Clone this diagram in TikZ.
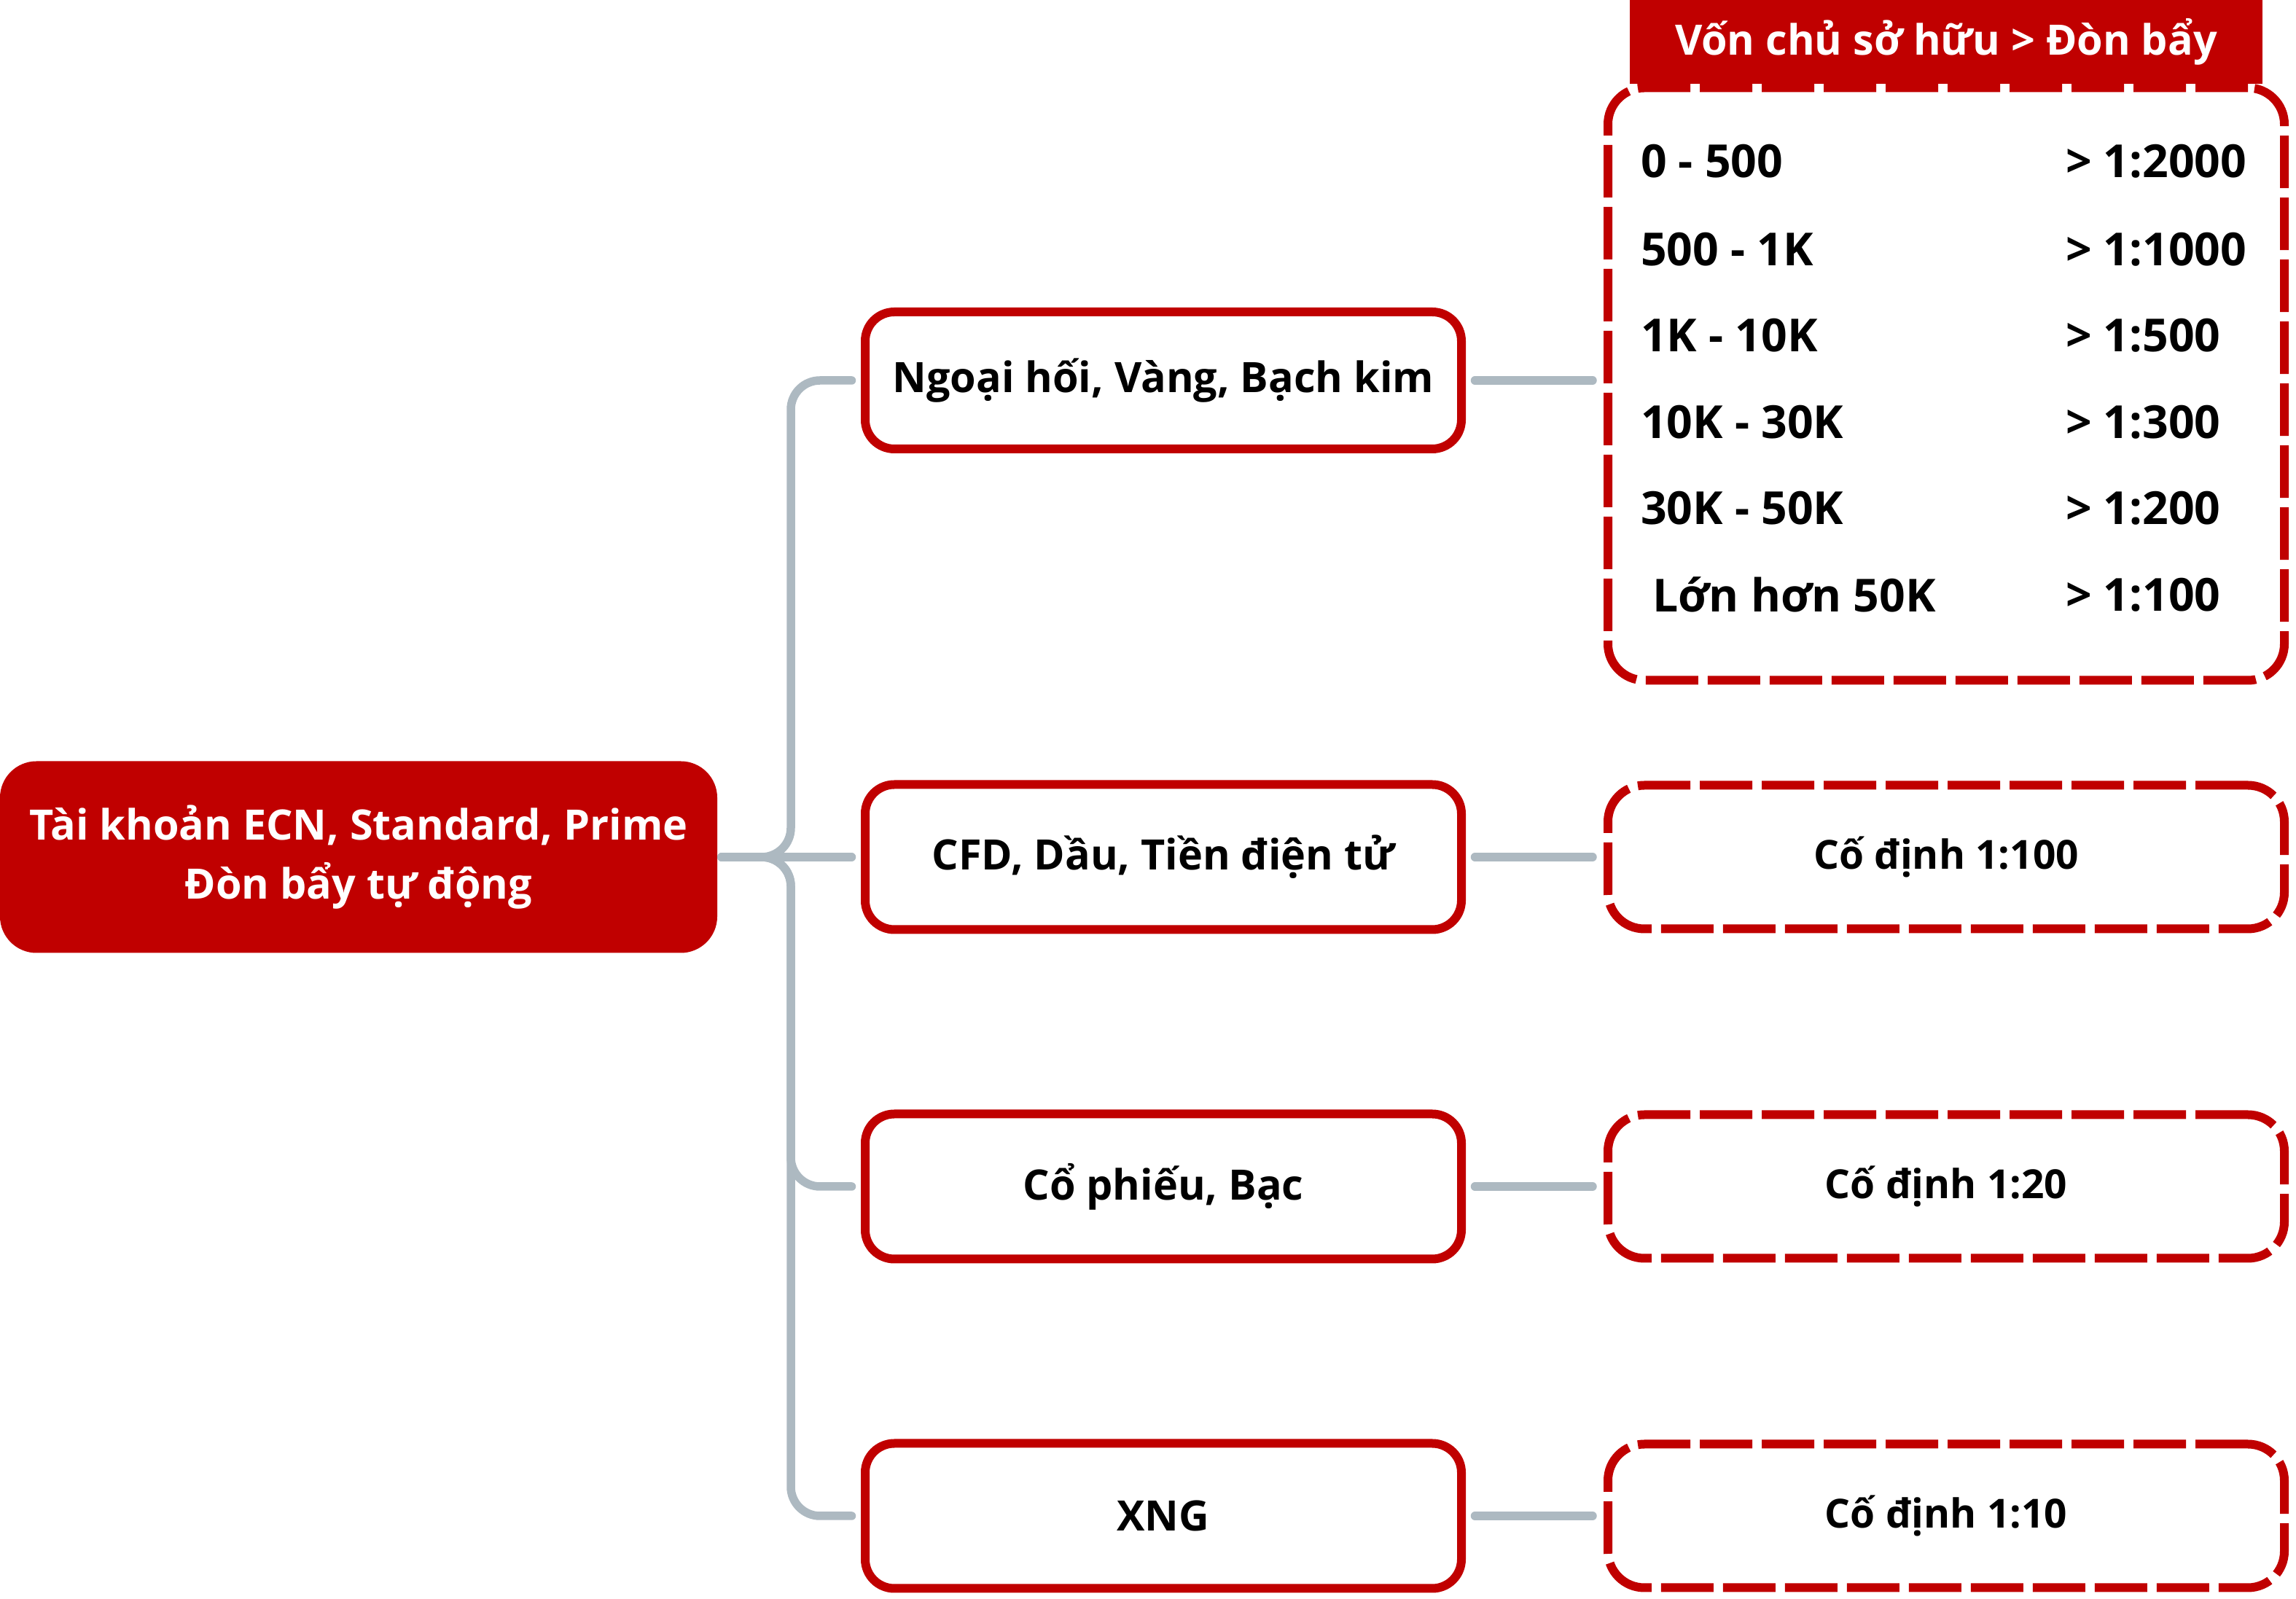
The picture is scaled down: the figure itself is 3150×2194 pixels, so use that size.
\documentclass[tikz,border=0pt]{standalone}
\usepackage{fontspec}
\setmainfont{Open Sans}
\usetikzlibrary{calc}
\definecolor{brandred}{RGB}{192,0,0}
\definecolor{linkgray}{RGB}{173,185,193}
\tikzset{
  txt/.style={font=\bfseries\fontsize{11.5}{14}\selectfont},
  cat/.style={draw=brandred, line width=2.4pt, fill=white, rounded corners=8pt,
    minimum width=163.6pt, minimum height=39.8pt, inner sep=0pt, txt},
  lev/.style={draw=brandred, line width=2.4pt, dash pattern=on 14.4pt off 2.6pt,
    fill=white, rounded corners=10pt, minimum width=185.6pt, minimum height=39.4pt,
    inner sep=0pt, font=\bfseries\fontsize{11}{13}\selectfont},
  link/.style={draw=linkgray, line width=2.3pt, line cap=round, rounded corners=8pt}
}

\begin{document}
\begin{tikzpicture}[x=0.2pt, y=-0.2pt]
\useasboundingbox (0,0) rectangle (3150,2194);
    \node[fill=brandred, rounded corners=10pt, minimum width=196.8pt, minimum height=52.6pt,
      inner sep=0pt, text=white, align=center, font=\bfseries\fontsize{11.5}{16.2}\selectfont]
      (acc) at (492,1176) {Tài khoản ECN, Standard, Prime\\Đòn bẩy tự động};
    \coordinate (fork) at (1085,1176);
\begin{scope}[every node/.style={cat}]
    \node[minimum height=37.6pt] (fx) at (1596,522) {Ngoại hối, Vàng, Bạch kim};
    \node (cfd) at (1596,1176) {CFD, Dầu, Tiền điện tử};
    \node (stock) at (1596,1628) {Cổ phiếu, Bạc};
    \node (xng) at (1596,2080) {XNG};
\end{scope}
    \node[fill=brandred, minimum width=173.6pt, minimum height=23pt, inner sep=0pt,
      text=white, txt] (head) at (2670,57.5) {Vốn chủ sở hữu > Đòn bẩy};
\begin{scope}[every node/.style={lev}]
    \node[minimum height=162.6pt] (tbl) at (2670,527) {};
    \node (lev2) at (2670,1176) {Cố định 1:100};
    \node (lev3) at (2670,1628) {Cố định 1:20};
    \node (lev4) at (2670,2080) {Cố định 1:10};
\end{scope}
\begin{scope}[every node/.style={anchor=west, inner sep=0pt, font=\bfseries\fontsize{12.5}{15}\selectfont}]
    \node (eq1) at (2250,221) {0 - 500};
    \node (eq2) at (2250,342) {500 - 1K};
    \node (eq3) at (2250,460) {1K - 10K};
    \node (eq4) at (2250,579) {10K - 30K};
    \node (eq5) at (2250,697) {30K - 50K};
    \node (eq6) at (2266,816) {Lớn hơn 50K};
    \node (lv1) at (2833,221) {> 1:2000};
    \node (lv2) at (2833,342) {> 1:1000};
    \node (lv3) at (2833,460) {> 1:500};
    \node (lv4) at (2833,579) {> 1:300};
    \node (lv5) at (2833,697) {> 1:200};
    \node (lv6) at (2833,816) {> 1:100};
\end{scope}
\begin{scope}[every path/.style={link}]
    \draw[shorten <=1pt, shorten >=2.5pt] (acc.east) -- (fork) |- (fx.west);
    \draw[shorten <=1pt, shorten >=2.5pt] (acc.east) -- (cfd.west);
    \draw[shorten <=1pt, shorten >=2.5pt] (acc.east) -- (fork) |- (stock.west);
    \draw[shorten <=1pt, shorten >=2.5pt] (acc.east) -- (fork) |- (xng.west);
    \draw[shorten <=2.5pt, shorten >=3pt] (fx.east) -- (tbl.west |- fx.east);
    \draw[shorten <=2.5pt, shorten >=3pt] (cfd.east) -- (lev2.west);
    \draw[shorten <=2.5pt, shorten >=3pt] (stock.east) -- (lev3.west);
    \draw[shorten <=2.5pt, shorten >=3pt] (xng.east) -- (lev4.west);
\end{scope}
\end{tikzpicture}
\end{document}
